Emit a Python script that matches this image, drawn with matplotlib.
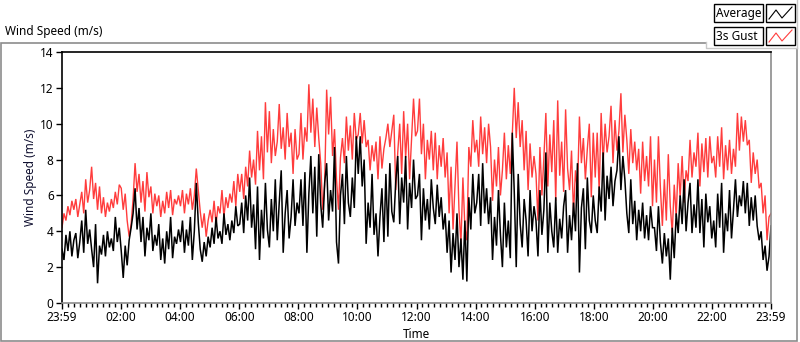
import numpy as np
import matplotlib
matplotlib.use("Agg")
import matplotlib.pyplot as plt
from matplotlib.patches import Rectangle
from matplotlib.lines import Line2D

plt.rcParams['font.family'] = ['Noto Sans', 'DejaVu Sans']

# ---- data (12 x 2-hour blocks of 4-minute samples) ----
gust = [
    4.2,5.0,4.6,5.4,4.9,5.7,5.2,5.8,4.8,5.5, 6.2,5.0,6.9,5.6,6.3,7.6,5.8,6.7,5.2,6.5, 5.0,5.9,4.8,5.6,5.1,5.8,5.3,6.2,5.5,6.6,
    6.4,5.2,6.1,4.6,3.7,4.4,5.8,7.8,6.2,7.2, 5.6,6.8,5.1,7.3,5.9,6.5,5.0,6.1,5.4,6.0, 4.8,5.7,5.0,6.2,5.3,6.3,4.9,5.8,5.5,6.0,
    5.4,6.3,5.0,6.1,5.5,6.4,5.2,6.0,7.5,6.3, 5.1,4.2,5.0,3.7,4.6,5.2,4.5,5.7,4.4,5.4, 5.0,6.3,4.8,5.9,5.3,6.1,5.6,6.8,5.4,7.2,
    6.2,7.2,5.8,7.6,6.5,8.5,7.0,8.0,6.6,9.6, 7.4,9.3,6.9,11.2,8.4,10.7,7.8,9.7,8.2,9.0, 11.1,8.6,9.8,8.0,10.6,8.7,9.5,7.2,9.7,8.0,
    8.3,10.6,8.0,9.8,9.0,12.2,9.5,11.4,8.7,10.9, 9.2,7.8,5.2,6.6,11.9,9.4,11.5,8.2,9.7,6.9, 5.2,8.1,9.2,7.8,10.4,8.5,9.9,8.0,10.6,9.1,
    9.4,10.6,8.9,10.2,8.7,9.1,7.4,8.8,7.9,9.0, 6.9,9.3,7.5,8.6,9.2,10.0,8.7,9.6,10.5,6.3, 8.4,10.0,7.2,10.7,8.1,10.0,6.9,9.2,11.4,9.3,
    9.6,11.4,8.3,10.0,6.9,9.1,8.0,9.6,7.4,9.5, 6.9,8.8,7.6,9.2,7.0,8.4,5.0,7.6,4.1,6.5, 9.0,5.2,3.3,7.0,4.2,3.5,8.7,7.6,10.2,8.4,
    9.1,7.6,10.4,8.3,9.8,7.8,10.0,8.7,5.7,8.0, 6.5,8.7,6.0,7.4,9.5,6.9,8.8,7.2,9.4,12.0, 9.2,11.2,8.7,10.2,7.4,9.6,6.3,8.9,7.0,8.2,
    7.2,4.6,8.7,6.0,8.1,10.6,6.5,9.4,7.3,10.2, 5.7,11.3,7.1,9.0,6.2,10.8,7.5,6.3,8.5,5.0, 7.4,6.2,10.4,7.8,9.2,6.9,8.6,10.0,5.9,9.5,
    7.0,9.5,6.2,10.6,7.8,10.0,8.4,9.3,11.0,7.8, 10.2,8.5,9.6,11.7,8.4,10.5,9.1,7.2,9.7,7.8, 9.0,7.4,8.6,6.1,9.0,6.8,8.2,6.5,9.3,5.4,
    8.0,5.6,9.3,6.4,4.3,6.9,4.6,8.3,5.4,3.9, 6.6,4.8,7.8,5.9,8.2,5.6,7.4,6.8,9.1,7.0, 8.4,7.6,9.5,6.5,8.9,7.3,9.2,7.0,9.3,7.8,
    8.2,7.0,9.3,7.6,9.8,6.9,8.8,7.4,9.1,7.2, 8.6,7.6,10.6,8.5,10.4,9.0,10.2,8.8,9.1,6.7, 8.4,7.2,8.0,6.4,6.7,5.0,6.0,3.5,4.8,5.0,
]
average = [
    3.0,2.4,3.8,2.9,4.0,2.6,3.5,3.9,2.5,3.4, 4.6,2.8,5.2,3.3,4.1,3.0,2.0,4.4,1.1,3.2, 2.7,3.8,2.6,4.0,3.1,3.6,2.9,4.8,3.4,4.2,
    2.9,1.4,3.2,2.1,3.5,4.2,5.0,6.4,4.1,5.3, 3.4,4.8,2.6,4.2,3.5,5.0,2.9,3.8,3.2,4.4, 2.4,3.6,2.2,4.0,3.0,4.8,2.5,3.7,3.3,4.1,
    3.4,4.6,2.8,4.1,3.2,4.8,2.4,4.0,6.7,4.5, 3.0,2.3,3.4,2.6,3.7,3.1,4.2,3.3,4.8,3.6, 4.0,3.3,5.0,3.8,4.4,3.5,4.6,3.9,5.4,4.3,
    4.4,5.6,3.9,6.0,4.6,7.0,4.2,5.5,3.0,6.5, 2.4,5.2,3.6,6.7,4.1,3.1,5.8,4.0,6.9,3.5, 5.6,7.4,2.8,5.0,6.3,3.6,4.8,6.9,4.3,5.6,
    5.0,6.9,4.3,7.3,2.8,6.1,8.2,5.0,7.6,3.7, 8.3,5.5,4.2,6.7,7.8,4.6,6.3,5.1,8.7,3.4, 2.2,6.0,7.2,4.4,8.2,5.6,4.8,7.0,5.3,9.3,
    7.2,9.3,6.5,8.0,3.3,5.6,4.2,7.2,3.8,5.0, 2.6,4.8,6.4,3.4,7.2,3.7,7.8,5.1,4.5,6.8, 8.2,4.4,7.0,5.6,8.2,4.1,6.7,5.3,8.0,5.8,
    6.0,7.2,3.5,6.4,4.6,5.8,4.1,6.9,5.3,4.4, 6.6,4.8,5.9,4.1,5.0,2.8,4.6,1.7,3.9,2.4, 5.0,2.0,3.6,1.3,4.6,1.2,5.9,4.1,7.2,5.0,
    5.6,7.2,4.3,7.8,5.0,6.4,4.4,5.9,2.4,4.8, 3.2,6.3,3.8,2.0,5.6,3.1,4.6,2.5,9.5,6.2, 2.0,7.2,4.4,3.1,5.8,4.6,2.6,6.3,4.0,5.4,
    4.6,2.6,6.3,3.8,5.2,8.4,2.8,5.6,4.0,3.1, 5.9,2.8,4.7,3.6,5.4,6.3,2.8,4.9,3.5,5.6, 4.0,7.8,1.7,5.3,6.4,3.0,7.0,4.6,3.9,6.0,
    4.6,3.9,6.5,5.1,8.4,4.6,7.1,5.8,7.6,5.4, 6.8,7.4,9.3,6.3,8.2,6.9,5.0,3.9,6.9,4.4, 5.7,3.5,5.2,4.0,5.6,3.6,4.9,3.5,5.4,4.2,
    4.2,2.9,5.4,3.4,2.2,3.9,2.6,3.6,1.3,4.2, 2.5,5.0,3.9,6.0,4.4,6.9,4.0,5.6,6.7,3.9, 5.5,4.2,6.9,3.9,5.8,3.1,6.1,4.5,5.4,3.6,
    4.6,3.1,6.1,4.2,6.7,2.8,5.0,4.0,6.3,3.6, 5.2,6.9,4.8,6.0,5.4,6.8,5.0,6.7,4.3,5.9, 4.6,6.0,4.3,3.5,4.0,2.4,3.2,1.8,2.6,4.3,
]
tick_hours = [0, 2, 4, 6, 8, 10, 12, 14, 16, 18, 20, 22, 24]
tick_labels = ["23:59", "02:00", "04:00", "06:00", "08:00", "10:00", "12:00",
               "14:00", "16:00", "18:00", "20:00", "22:00", "23:59"]
y_ticks = [0, 2, 4, 6, 8, 10, 12, 14]
series_names = ["Average", "3s Gust"]

hours = np.linspace(0, 24, len(gust))

W, H = 800, 342
fig = plt.figure(figsize=(W / 100, H / 100), dpi=100)

def fx(x): return x / W
def fy(y): return 1 - y / H

ax = fig.add_axes([fx(62), fy(303), (771 - 62) / W, (303 - 52) / H])
red = "#ff3c3c"
ax.plot(hours, gust, color=red, lw=1.0, solid_joinstyle="miter")
ax.plot(hours, average, color="black", lw=1.1, solid_joinstyle="miter")
ax.set_xlim(0, 24)
ax.set_ylim(0, 14)
ax.set_xticks(tick_hours)
ax.set_xticklabels(tick_labels)
ax.set_xticks(np.arange(0, 24.01, 0.2), minor=True)
ax.set_yticks(y_ticks)
ax.tick_params(axis="both", which="major", direction="out", length=4, width=1,
               labelsize=8.5, colors="black", pad=2)
ax.tick_params(axis="x", which="minor", direction="out", length=3, width=1)
ax.tick_params(axis="y", which="minor", length=0)
for s in ["top", "left"]:
    ax.spines[s].set_color("black")
    ax.spines[s].set_linewidth(1.2)
for s in ["bottom", "right"]:
    ax.spines[s].set_color("#8c8c8c")
    ax.spines[s].set_linewidth(1.2)
ax.set_xlabel("Time", fontsize=8.5, labelpad=3)
ax.set_ylabel("Wind Speed (m/s)", fontsize=8.5, labelpad=2, color="#101030")

# outer gray frame
fig.patches.append(Rectangle((fx(1), fy(341)), (797 - 1) / W, (341 - 43) / H,
                             transform=fig.transFigure, fill=False,
                             edgecolor="#8c8c8c", lw=1.2))
fig.text(fx(5), fy(32), "Wind Speed (m/s)", fontsize=8.5, va="center", ha="left")

# legend (LabVIEW style)
fig.patches.append(Rectangle((fx(706), fy(48)), (800 - 706) / W, 48 / H,
                             transform=fig.transFigure, facecolor="white",
                             edgecolor="none", zorder=2))
fig.add_artist(Line2D([fx(706), fx(706), fx(797)], [fy(42), fy(48), fy(48)],
                      color="#c8c8c8", lw=1, transform=fig.transFigure, zorder=3))
fig.add_artist(Line2D([fx(797), fx(797)], [fy(48), fy(0)], color="#c8c8c8",
                      lw=1, transform=fig.transFigure, zorder=3))
for i, (name, col) in enumerate(zip(series_names, ["black", red])):
    y0 = 4 + i * 23
    fig.patches.append(Rectangle((fx(714), fy(y0 + 18)), 49 / W, 18 / H,
                                 transform=fig.transFigure, facecolor="white",
                                 edgecolor="black", lw=1, zorder=4))
    fig.text(fx(716), fy(y0 + 9), name, fontsize=8.5, va="center", ha="left", zorder=5)
    fig.patches.append(Rectangle((fx(766), fy(y0 + 18)), 29 / W, 18 / H,
                                 transform=fig.transFigure, facecolor="white",
                                 edgecolor="black", lw=1, zorder=4))
    fig.add_artist(Line2D([fx(769), fx(776), fx(782), fx(792)],
                          [fy(y0 + 15), fy(y0 + 6), fy(y0 + 14), fy(y0 + 3)],
                          color=col, lw=0.8, transform=fig.transFigure, zorder=5))

fig.savefig("out.png", dpi=100)
